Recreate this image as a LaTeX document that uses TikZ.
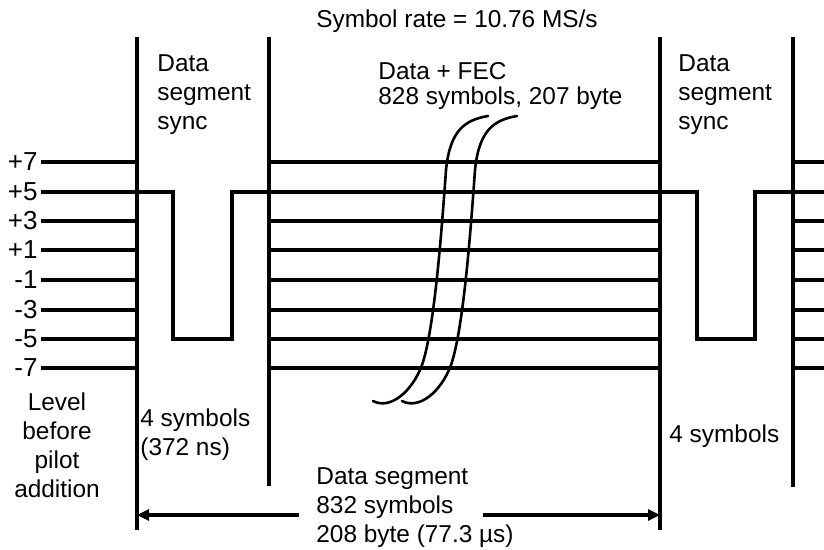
\documentclass[tikz,border=0pt]{standalone}
\usepackage{fontspec}
\setmainfont{Liberation Sans}
\usetikzlibrary{positioning,arrows.meta}

\begin{document}
\begin{tikzpicture}[
    x=0.5pt, y=-0.5pt,
    font=\fontsize{12.2}{14.5}\selectfont,
    wave/.style={line width=1.6pt},
    bound/.style={line width=1.6pt},
    brk/.style={line width=1.3pt, line cap=round},
    lvl/.style={anchor=base east, inner sep=0pt, font=\fontsize{13}{15}\selectfont},
    lab/.style={anchor=north west, align=left, inner sep=0pt},
    dim/.style={line width=1.6pt, -{Triangle[length=6pt, width=5.5pt]}},
]
\useasboundingbox (0,0) rectangle (824,550);

% Segment boundaries (pixel grid, y downwards)
\coordinate (v1t) at (137,37);  \coordinate (v1b) at (137,530);
\coordinate (v2t) at (269,37);  \coordinate (v2b) at (269,486);
\coordinate (v3t) at (660,37);  \coordinate (v3b) at (660,530);
\coordinate (v4t) at (793,37);  \coordinate (v4b) at (793,487);
\draw[bound] (v1t) -- (v1b);
\draw[bound] (v2t) -- (v2b);
\draw[bound] (v3t) -- (v3b);
\draw[bound] (v4t) -- (v4b);

% Levels
\draw[wave] (41,162) -- (137,162) (268,162) -- (661,162) (793,162) -- (824,162);
\draw[wave] (41,221) -- (137,221) (268,221) -- (661,221) (793,221) -- (824,221);
\draw[wave] (41,250) -- (137,250) (268,250) -- (661,250) (793,250) -- (824,250);
\draw[wave] (41,280) -- (137,280) (268,280) -- (661,280) (793,280) -- (824,280);
\draw[wave] (41,310) -- (137,310) (268,310) -- (661,310) (793,310) -- (824,310);
\draw[wave] (41,339) -- (137,339) (268,339) -- (661,339) (793,339) -- (824,339);
\draw[wave] (41,368) -- (137,368) (268,368) -- (661,368) (793,368) -- (824,368);

% Sync pulses on the +5 level
\draw[wave] (41,192) -- (173,192) -- (173,339) -- (232,339) -- (232,192)
    -- (697,192) -- (697,339) -- (755,339) -- (755,192) -- (824,192);

% Level labels
\node[lvl] (p7) at (38,171) {+7};
\node[lvl] (p5) at (38,201) {+5};
\node[lvl] (p3) at (38,230) {+3};
\node[lvl] (p1) at (38,259) {+1};
\node[lvl] (m1) at (38,289) {-1};
\node[lvl] (m3) at (38,319) {-3};
\node[lvl] (m5) at (38,348) {-5};
\node[lvl] (m7) at (38,377) {-7};

% Break marks
\draw[brk] (373,401) .. controls (390,410) and (412,392) .. (422,365)
    .. controls (434,330) and (441,240) .. (446,170)
    .. controls (450,130) and (465,120) .. (488,116);
\draw[brk] (402,401) .. controls (419,410) and (441,392) .. (451,365)
    .. controls (463,330) and (470,240) .. (475,170)
    .. controls (479,130) and (494,120) .. (517,116);

% Texts
\node[anchor=north, inner sep=0pt] (rate) at (457,9) {Symbol rate = 10.76 MS/s};
\node[lab] (syncL) at (157,54) {Data\\segment\\sync};
\node[lab] (syncR) at (678,54) {Data\\segment\\sync};
\node[lab] (fec) at (378,62) {Data + FEC\\[-2pt]828 symbols, 207 byte};
\node[lab] (symL) at (140,408) {4 symbols\\(372 ns)};
\node[lab] (symR) at (669,424) {4 symbols};
\node[lab] (seg) at (316,467) {Data segment\\832 symbols\\208 byte (77.3 µs)};
\node[anchor=north, align=center, inner sep=0pt] (note) at (57,392) {Level\\before\\pilot\\addition};

% Segment length
\coordinate (aL) at (137,515); \coordinate (gL) at (299,515);
\coordinate (aR) at (660,515); \coordinate (gR) at (483,515);
\draw[dim] (gL) -- (aL);
\draw[dim] (gR) -- (aR);
\end{tikzpicture}
\end{document}
